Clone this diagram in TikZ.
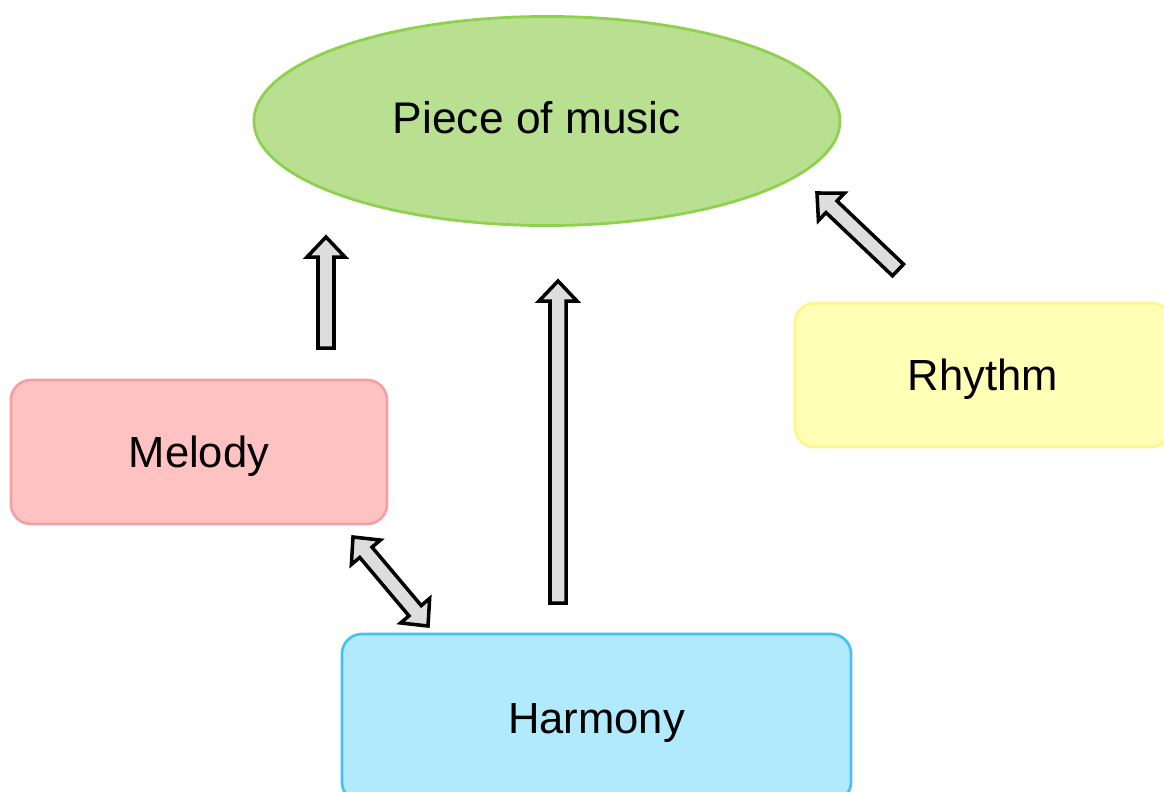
\documentclass[tikz,border=0pt]{standalone}
\usepackage{fontspec}
\setmainfont{Liberation Sans}
\usepackage{tikz}
\usetikzlibrary{calc,shapes.geometric}
\definecolor{musicfill}{HTML}{B9E090}
\definecolor{musicline}{HTML}{8FD14F}
\definecolor{melfill}{HTML}{FFC2C2}
\definecolor{melline}{HTML}{F4A0A0}
\definecolor{rhyfill}{HTML}{FFFFB5}
\definecolor{rhyline}{HTML}{FFF58A}
\definecolor{harfill}{HTML}{B0EAFC}
\definecolor{harline}{HTML}{45C2F0}
\definecolor{arrowgray}{HTML}{DDDDDD}
\tikzset{box/.style={draw, rounded corners=0.5cm, line width=1.9pt, minimum width=9.4cm, minimum height=3.6cm, text depth=0pt, font=\fontsize{31}{36}\selectfont}}
\tikzset{fat/.style={draw=black, fill=arrowgray, line width=2.5pt, line join=miter}}

% block arrow, tail #1, tip #2
\newcommand{\fatarrow}[2]{%
  \coordinate (fa-h) at ($(#2)!0.5cm!(#1)$);
  \draw[fat] ($(#1)!0.2cm!90:(#2)$) -- ($(fa-h)!0.2cm!-90:(#1)$)
    -- ($(fa-h)!0.475cm!-90:(#1)$) -- (#2)
    -- ($(fa-h)!0.475cm!90:(#1)$) -- ($(fa-h)!0.2cm!90:(#1)$)
    -- ($(#1)!0.2cm!-90:(#2)$) -- cycle;
}
% block arrow with two heads
\newcommand{\fatdarrow}[2]{%
  \coordinate (fa-a) at ($(#1)!0.5cm!(#2)$);
  \coordinate (fa-b) at ($(#2)!0.5cm!(#1)$);
  \draw[fat] (#1) -- ($(fa-a)!0.475cm!90:(#2)$) -- ($(fa-a)!0.2cm!90:(#2)$)
    -- ($(fa-b)!0.2cm!-90:(#1)$) -- ($(fa-b)!0.475cm!-90:(#1)$) -- (#2)
    -- ($(fa-b)!0.475cm!90:(#1)$) -- ($(fa-b)!0.2cm!90:(#1)$)
    -- ($(fa-a)!0.2cm!-90:(#2)$) -- ($(fa-a)!0.475cm!-90:(#2)$) -- cycle;
}

\begin{document}
\begin{tikzpicture}[x=0.025cm, y=-0.025cm]
    \useasboundingbox (0,0) rectangle (1164,791);
    \clip (0,0) rectangle (1164,791);

    \node [ellipse, draw=musicline, fill=musicfill, line width=2pt,
      minimum width=14.65cm, minimum height=5.225cm,
      font=\fontsize{31}{36}\selectfont] (music) at (547,121) {};
    \node (musictext) at (537,118) [font=\fontsize{31.5}{36}\selectfont] {Piece of music};
    \node [box, draw=melline, fill=melfill] (melody) at (199,452) {Melody};
    \node [box, draw=rhyline, fill=rhyfill] (rhythm) at (983,375) {Rhythm};
    \node [box, draw=harline, fill=harfill, minimum width=12.725cm,
      minimum height=4.2cm] (harmony) at (596.5,718) {Harmony};

    \coordinate (mel-tail) at (326,348);
    \coordinate (mel-tip) at (326,237);
    \coordinate (har-tail) at (558,603);
    \coordinate (har-tip) at (558,281);
    \coordinate (rhy-tail) at (898,270);
    \coordinate (rhy-tip) at (817,193);
    \coordinate (mh-a) at (353,537);
    \coordinate (mh-b) at (428,626);

    \fatarrow{mel-tail}{mel-tip}
    \fatarrow{har-tail}{har-tip}
    \fatarrow{rhy-tail}{rhy-tip}
    \fatdarrow{mh-a}{mh-b}
\end{tikzpicture}
\end{document}
